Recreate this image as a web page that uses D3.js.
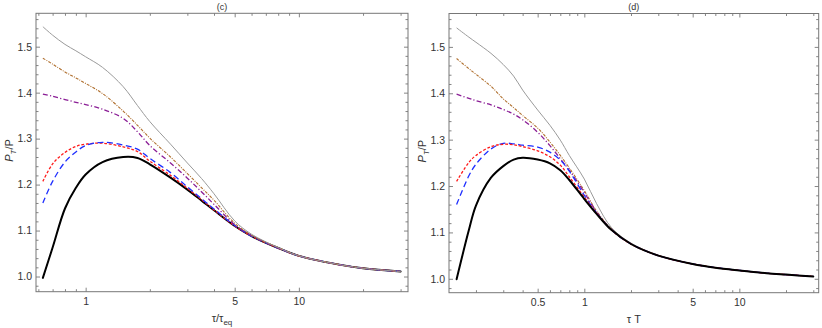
<!DOCTYPE html>
<html>
<head>
<meta charset="utf-8">
<script src="https://cdn.jsdelivr.net/npm/d3@7"></script>
<style>
  html, body { margin: 0; padding: 0; background: #fff; }
  svg { display: block; }
  text { font-family: "Liberation Sans", Arial, sans-serif; }
</style>
</head>
<body>
<svg id="chart" width="822" height="328"></svg>
<script>
// ---------------- DATA ----------------
const panelTitles = ["(c)", "(d)"];
const yTickValues = [1.0, 1.1, 1.2, 1.3, 1.4, 1.5];
const xTicksLeft = [1, 5, 10];
const xTicksRight = [0.5, 1, 5, 10];

// Left panel: x = tau / tau_eq
const xLeft = [0.63, 0.7, 0.8, 0.9, 1.0, 1.2, 1.5, 1.75, 2, 2.5, 3, 3.5, 4, 5, 6, 8, 10, 15, 20, 30];
const leftBlack  = [0.997, 1.063, 1.148, 1.193, 1.222, 1.249, 1.260, 1.258, 1.244, 1.215, 1.189, 1.165, 1.144, 1.110, 1.088, 1.062, 1.045, 1.027, 1.018, 1.011];
const leftRed    = [1.207, 1.245, 1.270, 1.283, 1.288, 1.290, 1.282, 1.272, 1.251, 1.220, 1.192, 1.167, 1.145, 1.110, 1.088, 1.062, 1.045, 1.027, 1.018, 1.011];
const leftBlue   = [1.160, 1.207, 1.249, 1.271, 1.285, 1.292, 1.286, 1.277, 1.257, 1.226, 1.195, 1.169, 1.147, 1.111, 1.088, 1.062, 1.045, 1.027, 1.018, 1.011];
const leftPurple = [1.397, 1.392, 1.385, 1.379, 1.374, 1.364, 1.344, 1.315, 1.285, 1.247, 1.214, 1.184, 1.157, 1.113, 1.089, 1.062, 1.045, 1.027, 1.018, 1.011];
const leftBrown  = [1.475, 1.462, 1.445, 1.432, 1.420, 1.398, 1.360, 1.329, 1.301, 1.260, 1.224, 1.193, 1.166, 1.116, 1.090, 1.063, 1.045, 1.027, 1.018, 1.011];
const leftGray   = [1.5435, 1.525, 1.505, 1.491, 1.478, 1.455, 1.413, 1.372, 1.337, 1.288, 1.247, 1.213, 1.180, 1.121, 1.092, 1.063, 1.045, 1.027, 1.018, 1.011];

// Right panel: x = tau T
const xRight = [0.15, 0.18, 0.2, 0.25, 0.3, 0.35, 0.4, 0.5, 0.6, 0.7, 0.8, 1.0, 1.2, 1.5, 2, 3, 5, 7, 10, 15, 20, 30];
const rightBlack  = [0.999, 1.105, 1.158, 1.218, 1.243, 1.257, 1.261, 1.257, 1.249, 1.234, 1.213, 1.172, 1.140, 1.105, 1.075, 1.050, 1.032, 1.024, 1.018, 1.012, 1.009, 1.005];
const rightRed    = [1.210, 1.251, 1.266, 1.285, 1.290, 1.289, 1.285, 1.276, 1.263, 1.245, 1.220, 1.176, 1.141, 1.105, 1.075, 1.050, 1.032, 1.024, 1.018, 1.012, 1.009, 1.005];
const rightBlue   = [1.160, 1.222, 1.247, 1.280, 1.292, 1.291, 1.288, 1.284, 1.273, 1.256, 1.232, 1.180, 1.142, 1.105, 1.075, 1.050, 1.032, 1.024, 1.018, 1.012, 1.009, 1.005];
const rightPurple = [1.398, 1.389, 1.384, 1.375, 1.365, 1.355, 1.343, 1.316, 1.287, 1.259, 1.234, 1.186, 1.144, 1.106, 1.075, 1.050, 1.032, 1.024, 1.018, 1.012, 1.009, 1.005];
const rightBrown  = [1.475, 1.453, 1.441, 1.415, 1.388, 1.369, 1.352, 1.325, 1.295, 1.266, 1.239, 1.190, 1.146, 1.107, 1.075, 1.050, 1.032, 1.024, 1.018, 1.012, 1.009, 1.005];
const rightGray   = [1.541, 1.521, 1.510, 1.486, 1.462, 1.437, 1.407, 1.364, 1.331, 1.299, 1.266, 1.215, 1.162, 1.110, 1.077, 1.051, 1.032, 1.024, 1.018, 1.012, 1.009, 1.005];

// ---------------- STYLES ----------------
const styles = {
  gray:   { color: "#9a9a9a", width: 1.0, dash: null },
  brown:  { color: "#b0702f", width: 1.1, dash: "3,1.2,1,1.2" },
  purple: { color: "#8b1e96", width: 1.3, dash: "5,2.2,1.2,2.2" },
  blue:   { color: "#1f2fff", width: 1.3, dash: "6,3.5" },
  red:    { color: "#ff1a1a", width: 1.3, dash: "2.8,1.8" },
  black:  { color: "#000000", width: 2.0, dash: null }
};

const svg = d3.select("#chart");
svg.append("rect").attr("width", 822).attr("height", 328).attr("fill", "#fff");

function makeMinorX(domain) {
  const out = [];
  for (let p = -2; p <= 2; p++) {
    for (let m = 1; m <= 9; m++) {
      const v = m * Math.pow(10, p);
      if (v >= domain[0] && v <= domain[1]) out.push(v);
    }
  }
  return out;
}
function makeMinorY(domain) {
  const out = [];
  for (let i = 0; i <= 40; i++) {
    const v = +(0.9 + i * 0.02).toFixed(2);
    if (v >= domain[0] && v <= domain[1]) out.push(v);
  }
  return out;
}

function drawPanel(cfg) {
  const g = svg.append("g");
  const x = d3.scaleLog().domain(cfg.xDomain).range([cfg.left, cfg.right]);
  const y = d3.scaleLinear().domain(cfg.yDomain).range([cfg.bottom, cfg.top]);

  const minorX = makeMinorX(cfg.xDomain).filter(v => !cfg.xTicks.includes(v));
  const minorY = makeMinorY(cfg.yDomain).filter(v => !yTickValues.some(t => Math.abs(t - v) < 1e-9));

  const fmtX = d => String(d);
  const fmtY = d => d.toFixed(1);

  const axisStyle = sel => {
    sel.select(".domain").remove();
    sel.selectAll(".tick line").attr("stroke", "#666").attr("stroke-width", 0.8);
    sel.selectAll(".tick text").attr("fill", "#333").attr("font-size", 10.5)
      .attr("font-family", "'Liberation Sans', Arial, sans-serif");
  };

  // bottom
  g.append("g").attr("transform", `translate(0,${cfg.bottom})`)
    .call(d3.axisBottom(x).tickValues(cfg.xTicks).tickFormat(fmtX).tickSize(-4).tickPadding(6))
    .call(axisStyle);
  g.append("g").attr("transform", `translate(0,${cfg.bottom})`)
    .call(d3.axisBottom(x).tickValues(minorX).tickFormat("").tickSize(-2.5))
    .call(axisStyle);
  // top
  g.append("g").attr("transform", `translate(0,${cfg.top})`)
    .call(d3.axisTop(x).tickValues(cfg.xTicks).tickFormat("").tickSize(-4))
    .call(axisStyle);
  g.append("g").attr("transform", `translate(0,${cfg.top})`)
    .call(d3.axisTop(x).tickValues(minorX).tickFormat("").tickSize(-2.5))
    .call(axisStyle);
  // left
  g.append("g").attr("transform", `translate(${cfg.left},0)`)
    .call(d3.axisLeft(y).tickValues(yTickValues).tickFormat(fmtY).tickSize(-4).tickPadding(4))
    .call(axisStyle);
  g.append("g").attr("transform", `translate(${cfg.left},0)`)
    .call(d3.axisLeft(y).tickValues(minorY).tickFormat("").tickSize(-2.5))
    .call(axisStyle);
  // right
  g.append("g").attr("transform", `translate(${cfg.right},0)`)
    .call(d3.axisRight(y).tickValues(yTickValues).tickFormat("").tickSize(-4))
    .call(axisStyle);
  g.append("g").attr("transform", `translate(${cfg.right},0)`)
    .call(d3.axisRight(y).tickValues(minorY).tickFormat("").tickSize(-2.5))
    .call(axisStyle);

  // frame
  g.append("rect")
    .attr("x", cfg.left).attr("y", cfg.top)
    .attr("width", cfg.right - cfg.left).attr("height", cfg.bottom - cfg.top)
    .attr("fill", "none").attr("stroke", "#777").attr("stroke-width", 1);

  // lines
  const clipId = "clip" + cfg.id;
  g.append("clipPath").attr("id", clipId).append("rect")
    .attr("x", cfg.left).attr("y", cfg.top)
    .attr("width", cfg.right - cfg.left).attr("height", cfg.bottom - cfg.top);

  const line = d3.line().x(d => x(d[0])).y(d => y(d[1])).curve(d3.curveCatmullRom.alpha(0.5));
  cfg.order.forEach(k => {
    const st = styles[k];
    const data = cfg.xs.map((xv, i) => [xv, cfg.series[k][i]]);
    g.append("path")
      .attr("clip-path", `url(#${clipId})`)
      .attr("d", line(data))
      .attr("fill", "none")
      .attr("stroke", st.color)
      .attr("stroke-width", st.width)
      .attr("stroke-dasharray", st.dash)
      .attr("stroke-linecap", k === "black" ? "round" : "butt");
  });

  // title
  g.append("text")
    .attr("x", (cfg.left + cfg.right) / 2).attr("y", cfg.top - 3.5)
    .attr("text-anchor", "middle").attr("font-size", 9).attr("fill", "#333")
    .text(cfg.title);

  // y label
  const yl = g.append("text")
    .attr("transform", `translate(${cfg.left - 23},${(cfg.top + cfg.bottom) / 2 - 2}) rotate(-90)`)
    .attr("text-anchor", "middle").attr("font-size", 11).attr("fill", "#333");
  yl.append("tspan").attr("font-style", "italic").text("P");
  yl.append("tspan").attr("font-style", "italic").attr("font-size", 8).attr("dy", 3).text("T");
  yl.append("tspan").attr("dy", -3).text("/P");

  // x label
  const xl = g.append("text")
    .attr("x", (cfg.left + cfg.right) / 2).attr("y", cfg.bottom + 30)
    .attr("text-anchor", "middle").attr("font-size", 11).attr("fill", "#333");
  cfg.xLabel(xl);
}

drawPanel({
  id: "L", title: panelTitles[0],
  left: 36, right: 408, top: 13.3, bottom: 291.7,
  xDomain: [0.585, 32.5], yDomain: [0.967, 1.5726],
  xTicks: xTicksLeft, xs: xLeft,
  series: { black: leftBlack, red: leftRed, blue: leftBlue, purple: leftPurple, brown: leftBrown, gray: leftGray },
  order: ["black", "red", "blue", "purple", "brown", "gray"],
  xLabel: t => {
    t.append("tspan").text("τ/τ");
    t.append("tspan").attr("font-size", 8).attr("dy", 3).text("eq");
  }
});

drawPanel({
  id: "R", title: panelTitles[1],
  left: 449, right: 818.7, top: 13.5, bottom: 292.7,
  xDomain: [0.134, 32.5], yDomain: [0.970, 1.572],
  xTicks: xTicksRight, xs: xRight,
  series: { black: rightBlack, red: rightRed, blue: rightBlue, purple: rightPurple, brown: rightBrown, gray: rightGray },
  order: ["gray", "brown", "purple", "blue", "red", "black"],
  xLabel: t => {
    t.append("tspan").text("τ T");
  }
});
</script>
</body>
</html>
